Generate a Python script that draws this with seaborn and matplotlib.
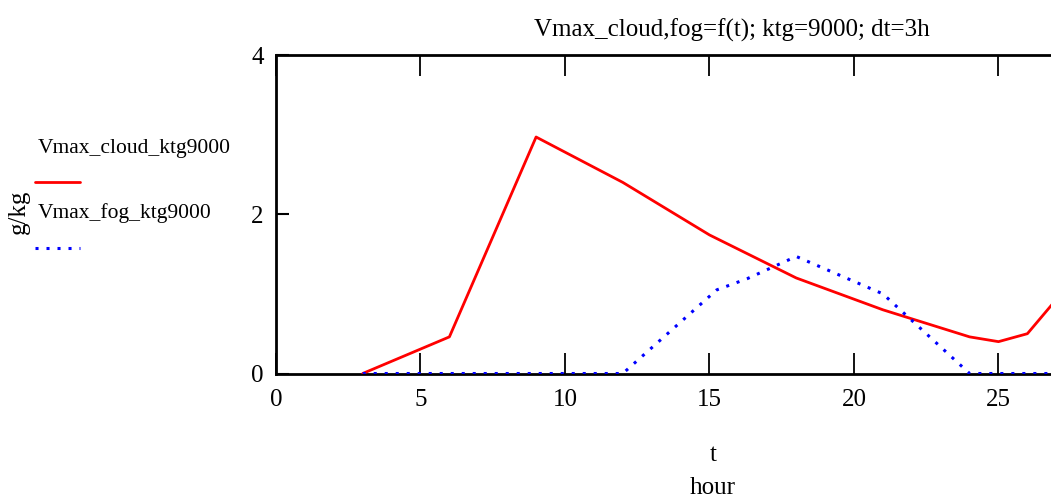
import pandas as pd
import matplotlib
matplotlib.use("Agg")
import matplotlib.pyplot as plt
import seaborn as sns
from matplotlib.lines import Line2D

# values
t_cloud = [3, 6, 9, 12, 15, 18, 21, 24, 25, 26, 27]
v_cloud = [0.0, 0.46, 2.97, 2.40, 1.74, 1.20, 0.80, 0.46, 0.40, 0.50, 0.93]

t_fog = [3, 12, 15.25, 16.3, 18, 21, 24, 27]
v_fog = [0.0, 0.0, 1.05, 1.19, 1.47, 1.0, 0.0, 0.0]

x_ticks = [0, 5, 10, 15, 20, 25]
y_ticks = [0, 2, 4]

sns.set_theme(style="white")
plt.rcParams["font.family"] = ["Liberation Serif", "DejaVu Serif"]
plt.rcParams["text.color"] = "black"

W, H = 1051, 501
fig = plt.figure(figsize=(W / 100, H / 100), dpi=100)
# axes runs past the right edge of the picture (cropped like the original)
x0, x1 = 276, 1143
y_top, y_bot = 55, 373.5
ax = fig.add_axes([x0 / W, 1 - y_bot / H, (x1 - x0) / W, (y_bot - y_top) / H])

cloud = pd.DataFrame({"t": t_cloud, "v": v_cloud})
fog = pd.DataFrame({"t": t_fog, "v": v_fog})

sns.lineplot(data=cloud, x="t", y="v", ax=ax, color="#ff0000", lw=2.0, zorder=3)
sns.lineplot(data=fog, x="t", y="v", ax=ax, color="#0000ff", lw=2.2,
             linestyle=(0, (1, 2.6)), zorder=3)

ax.set_xlim(0, 30)
ax.set_ylim(0, 4)
ax.set_xticks(x_ticks)
ax.set_yticks(y_ticks)
ax.set_xlabel("")
ax.set_ylabel("")

for side in ["left", "top", "bottom"]:
    ax.spines[side].set_color("black")
    ax.spines[side].set_linewidth(2.0)
ax.spines["right"].set_visible(False)

fs = 18
ax.tick_params(axis="x", which="both", direction="in", length=15, width=1.3,
               top=True, bottom=True, labelsize=fs, pad=11, colors="black")
ax.tick_params(axis="y", direction="in", length=9, width=1.5, left=True,
               labelsize=fs, pad=9, colors="black")

fig.text(732 / W, 1 - 30 / H, "Vmax_cloud,fog=f(t); ktg=9000; dt=3h",
         ha="center", va="center", fontsize=fs)
fig.text(713 / W, 1 - 455 / H, "t", ha="center", va="center", fontsize=fs)
fig.text(713 / W, 1 - 488 / H, "hour", ha="center", va="center", fontsize=fs)
fig.text(19 / W, 1 - 212 / H, "g/kg", ha="center", va="center",
         rotation=90, fontsize=fs)

# Mathcad style legend: label above a line sample
lfs = 15.5
fig.text(38 / W, 1 - 149 / H, "Vmax_cloud_ktg9000", ha="left", va="center",
         fontsize=lfs)
fig.add_artist(Line2D([35 / W, 80 / W], [1 - 182 / H, 1 - 182 / H],
                      color="#ff0000", lw=2.0))
fig.text(38 / W, 1 - 213 / H, "Vmax_fog_ktg9000", ha="left", va="center",
         fontsize=lfs)
fig.add_artist(Line2D([35 / W, 80 / W], [1 - 248 / H, 1 - 248 / H],
                      color="#0000ff", lw=2.2, linestyle=(0, (1, 2.6))))

fig.savefig("out.png", dpi=100)
